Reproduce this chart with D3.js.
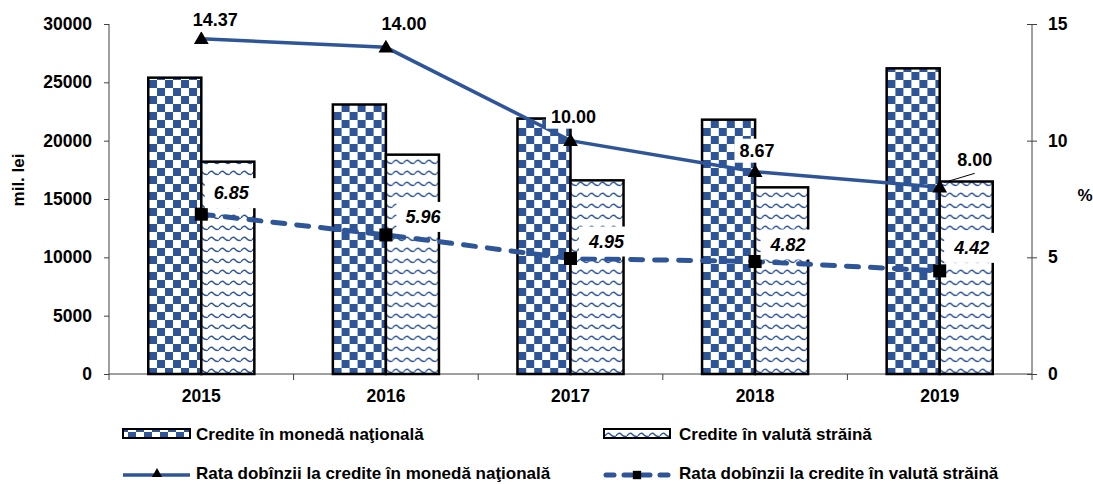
<!DOCTYPE html>
<html>
<head>
<meta charset="utf-8">
<script src="https://cdn.jsdelivr.net/npm/d3@7"></script>
<style>
  body { margin: 0; background: #fff; }
  svg { display: block; font-family: Arial, "Liberation Sans", sans-serif; font-weight: bold; }
  .axis path, .axis line { stroke: #404040; }
  .axis text { font-size: 17.5px; font-weight: bold; fill: #000; }
</style>
</head>
<body>
<svg width="1093" height="484"></svg>
<script>
// date
var years = ["2015", "2016", "2017", "2018", "2019"];
var crediteNational = [25400, 23100, 21900, 21800, 26200];
var crediteValuta = [18200, 18800, 16600, 16000, 16500];
var rataNational = [14.37, 14.00, 10.00, 8.67, 8.00];
var rataValuta = [6.85, 5.96, 4.95, 4.82, 4.42];
var ticksLeft = [0, 5000, 10000, 15000, 20000, 25000, 30000];
var ticksRight = [0, 5, 10, 15];

// deplasarea etichetelor fata de punct (doar asezare)
var shiftNat = [[14, -13], [18, -17], [3, -18], [2, -15], [35, -21]];
var shiftVal = [[30, -21], [37, -18], [36, -17], [33, -17], [32, -23]];

var blue = "#2E5597";
var svg = d3.select("svg"),
    margin = { top: 24, right: 61, bottom: 110, left: 109 },
    width = +svg.attr("width") - margin.left - margin.right,
    height = +svg.attr("height") - margin.top - margin.bottom;

// modele de umplere
var defs = svg.append("defs");
var chk = defs.append("pattern").attr("id", "chk")
    .attr("patternUnits", "userSpaceOnUse").attr("width", 16).attr("height", 16);
chk.append("rect").attr("width", 16).attr("height", 16).attr("fill", "#fff");
chk.append("rect").attr("width", 8).attr("height", 8).attr("fill", blue);
chk.append("rect").attr("x", 8).attr("y", 8).attr("width", 8).attr("height", 8).attr("fill", blue);

var wave = defs.append("pattern").attr("id", "wave")
    .attr("patternUnits", "userSpaceOnUse").attr("width", 11).attr("height", 11);
wave.append("rect").attr("width", 11).attr("height", 11).attr("fill", "#fff");
wave.append("path").attr("d", "M0,7 Q2.75,2.5 5.5,5.5 T11,7")
    .attr("fill", "none").attr("stroke", blue).attr("stroke-width", 1.4);

var x = d3.scaleBand().domain(years).range([0, width]).padding(0);
var xs = d3.scaleBand().domain(["nat", "val"]).range([0, x.bandwidth()])
    .paddingInner(0).paddingOuter(0.74);
var y = d3.scaleLinear().domain([0, 30000]).range([height, 0]);
var y2 = d3.scaleLinear().domain([0, 15]).range([height, 0]);

var g = svg.append("g").attr("transform", "translate(" + margin.left + "," + margin.top + ")");

// assen
g.append("g").attr("class", "axis")
    .call(d3.axisLeft(y).tickValues(ticksLeft).tickSize(5).tickPadding(12).tickFormat(d3.format("d")))
    .select(".domain").attr("d", "M0,0V" + height);

var ax2 = g.append("g").attr("class", "axis")
    .attr("transform", "translate(" + width + ",0)")
    .call(d3.axisRight(y2).tickValues(ticksRight).tickSize(5).tickPadding(11));
ax2.select(".domain").attr("d", "M0,0V" + height);
ax2.selectAll(".tick line").attr("x1", -5);

var axb = g.append("g").attr("class", "axis")
    .attr("transform", "translate(0," + height + ")")
    .call(d3.axisBottom(x).tickSize(0).tickPadding(16));
axb.select(".domain").attr("d", "M0,0H" + width);
axb.selectAll(".sep").data(d3.range(years.length + 1)).enter().append("line")
    .attr("x1", function (i) { return i * x.step(); })
    .attr("x2", function (i) { return i * x.step(); })
    .attr("y1", 0).attr("y2", 6).attr("stroke", "#404040");

// bare
var rows = years.map(function (yr, i) {
    return [{ yr: yr, k: "nat", v: crediteNational[i] }, { yr: yr, k: "val", v: crediteValuta[i] }];
});
g.selectAll(".grp").data(rows).enter().append("g")
    .attr("transform", function (d) { return "translate(" + x(d[0].yr) + ",0)"; })
    .selectAll("rect").data(function (d) { return d; }).enter().append("rect")
    .attr("x", function (d) { return xs(d.k); })
    .attr("y", function (d) { return y(d.v); })
    .attr("width", xs.bandwidth())
    .attr("height", function (d) { return height - y(d.v); })
    .attr("fill", function (d) { return d.k === "nat" ? "url(#chk)" : "url(#wave)"; })
    .attr("stroke", "#000").attr("stroke-width", 2.5);

// linii
var cx = function (i) { return x(years[i]) + x.bandwidth() / 2; };
var line = d3.line().x(function (d, i) { return cx(i); }).y(function (d) { return y2(d); });

g.append("path").datum(rataNational).attr("d", line)
    .attr("fill", "none").attr("stroke", blue).attr("stroke-width", 3.5);
g.append("path").datum(rataValuta).attr("d", line)
    .attr("fill", "none").attr("stroke", blue).attr("stroke-width", 5)
    .attr("stroke-dasharray", "12,12").attr("stroke-linecap", "round");

var tri = d3.symbol().type(d3.symbolTriangle).size(95);
var sq = d3.symbol().type(d3.symbolSquare).size(170);
g.selectAll(".mn").data(rataNational).enter().append("path")
    .attr("d", tri).attr("fill", "#000")
    .attr("transform", function (d, i) { return "translate(" + cx(i) + "," + (y2(d) + 1) + ")"; });
g.selectAll(".mv").data(rataValuta).enter().append("path")
    .attr("d", sq).attr("fill", "#000")
    .attr("transform", function (d, i) { return "translate(" + cx(i) + "," + y2(d) + ")"; });

// linie de legatura pentru ultima eticheta
g.append("line")
    .attr("x1", cx(4) + 5).attr("y1", y2(rataNational[4]) - 5)
    .attr("x2", cx(4) + 35).attr("y2", y2(rataNational[4]) - 14)
    .attr("stroke", "#000").attr("stroke-width", 1);

// etichete
function labels(data, shift, italic, padX, boxH, baseMode) {
    data.forEach(function (d, i) {
        var lg = g.append("g");
        var t = lg.append("text")
            .attr("x", cx(i) + shift[i][0])
            .attr("y", y2(d) + shift[i][1])
            .attr("text-anchor", "middle")
            .attr("dominant-baseline", baseMode)
            .style("font-size", "18px")
            .style("font-style", italic ? "italic" : "normal")
            .text(d.toFixed(2));
        var b = t.node().getBBox();
        lg.insert("rect", "text")
            .attr("x", b.x - padX).attr("y", b.y + b.height / 2 - boxH / 2)
            .attr("width", b.width + 2 * padX).attr("height", boxH)
            .attr("fill", "#fff");
    });
}
labels(rataNational, shiftNat, false, 5, 24, "auto");
labels(rataValuta, shiftVal, true, 9, 30, "central");

// titluri axe
svg.append("text")
    .attr("transform", "translate(24," + (margin.top + 156) + ") rotate(-90)")
    .attr("text-anchor", "middle").style("font-size", "17px").text("mil. lei");
svg.append("text")
    .attr("x", 1085).attr("y", 201)
    .attr("text-anchor", "middle").style("font-size", "17px").text("%");

// legenda
var leg = svg.append("g").style("font-size", "17px");
leg.append("rect").attr("x", 123).attr("y", 429).attr("width", 67).attr("height", 9)
    .attr("fill", "url(#chk)").attr("stroke", "#000").attr("stroke-width", 2);
leg.append("text").attr("x", 196).attr("y", 440).text("Credite în monedă naţională");

leg.append("rect").attr("x", 604).attr("y", 429).attr("width", 66).attr("height", 9)
    .attr("fill", "url(#wave)").attr("stroke", "#000").attr("stroke-width", 2);
leg.append("text").attr("x", 679).attr("y", 440).text("Credite în valută străină");

leg.append("line").attr("x1", 123).attr("x2", 190).attr("y1", 475).attr("y2", 475)
    .attr("stroke", blue).attr("stroke-width", 3.5);
leg.append("path").attr("d", d3.symbol().type(d3.symbolTriangle).size(45))
    .attr("transform", "translate(157,474)").attr("fill", "#000");
leg.append("text").attr("x", 196).attr("y", 479).text("Rata dobînzii la credite în monedă naţională");

leg.append("line").attr("x1", 606).attr("x2", 670).attr("y1", 475).attr("y2", 475)
    .attr("stroke", blue).attr("stroke-width", 5)
    .attr("stroke-dasharray", "8,10").attr("stroke-linecap", "round");
leg.append("path").attr("d", d3.symbol().type(d3.symbolSquare).size(70))
    .attr("transform", "translate(637,475)").attr("fill", "#000");
leg.append("text").attr("x", 679).attr("y", 479).text("Rata dobînzii la credite în valută străină");
</script>
</body>
</html>
